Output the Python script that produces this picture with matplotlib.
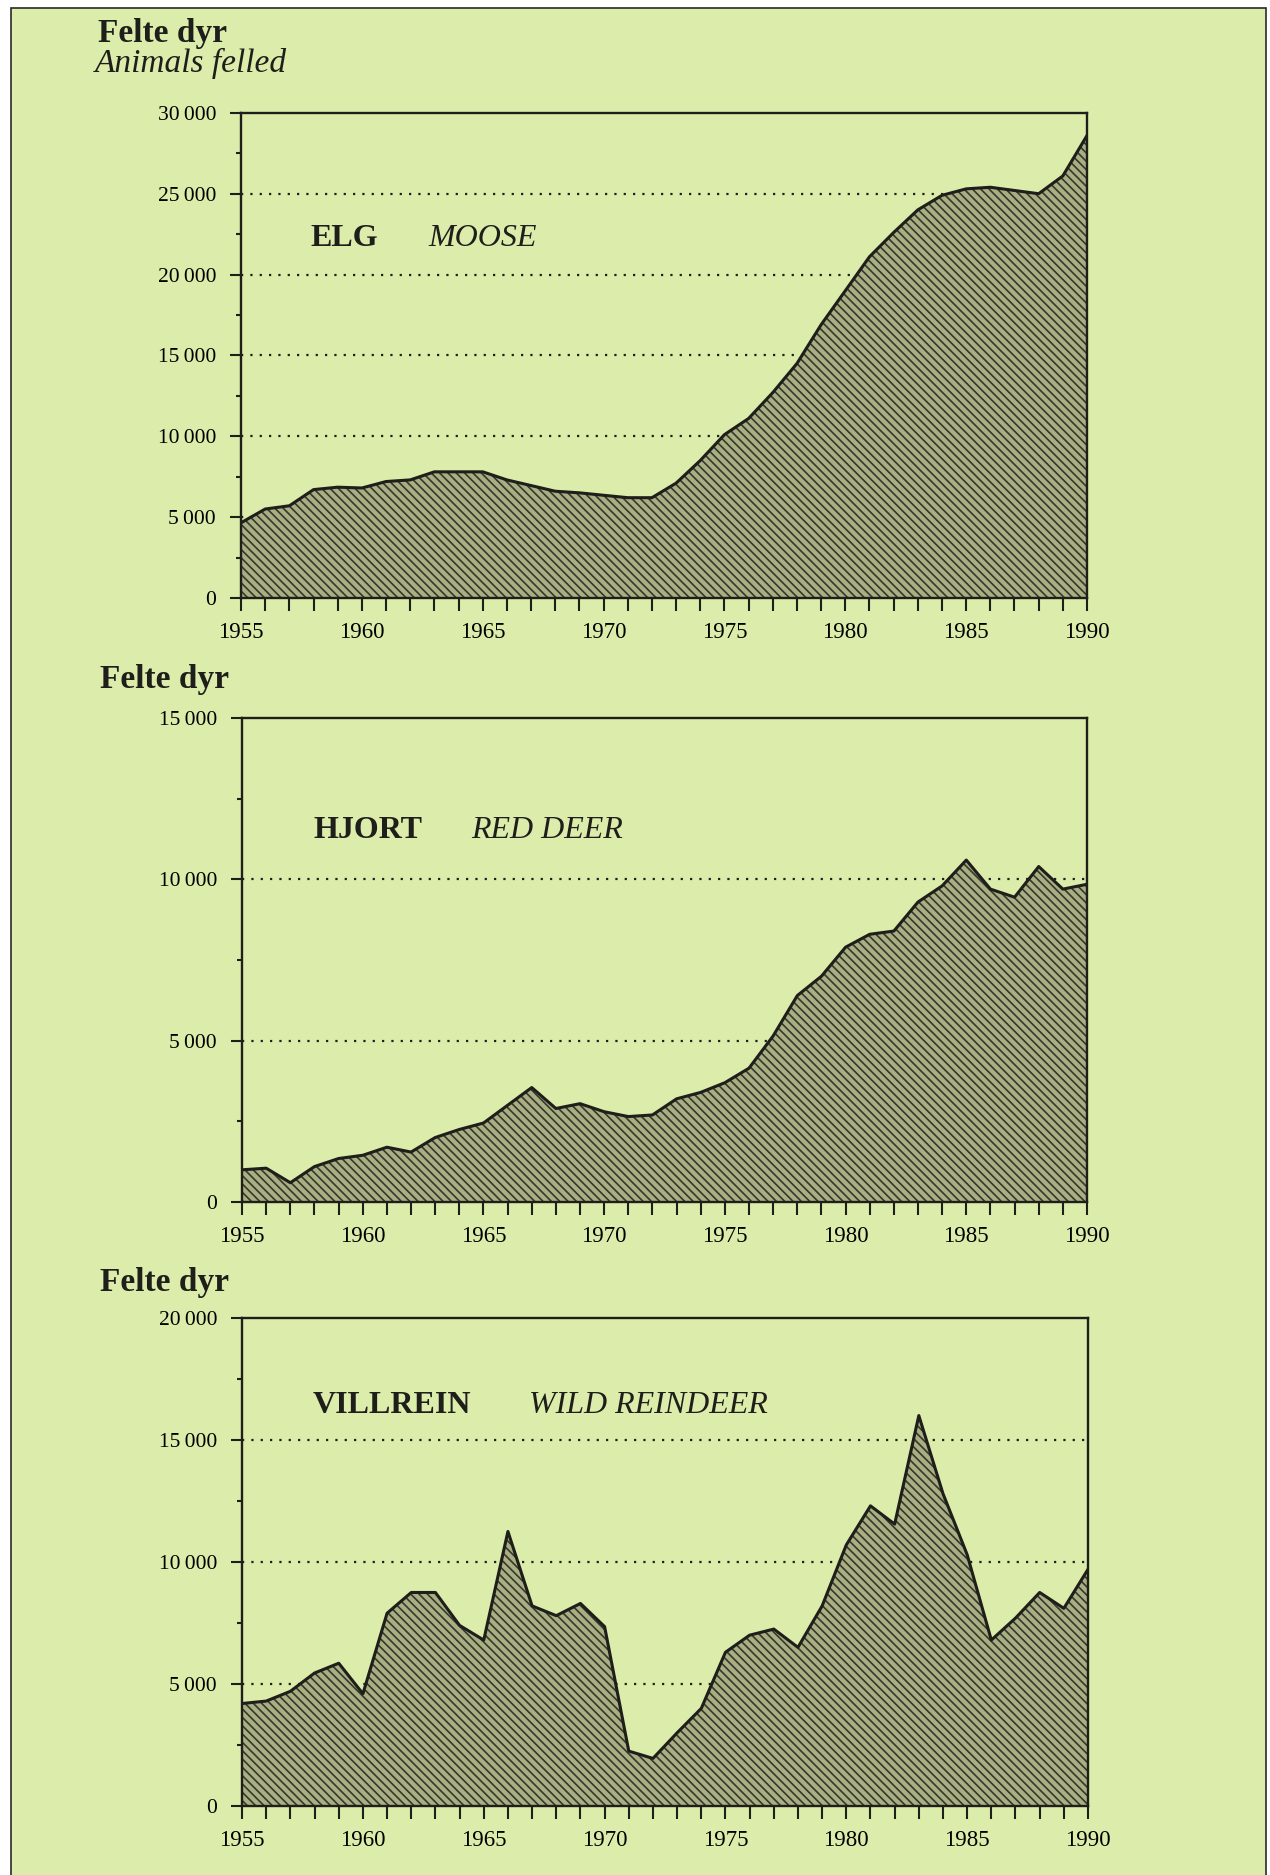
import matplotlib
matplotlib.use("Agg")
import matplotlib.pyplot as plt
from matplotlib.patches import Rectangle
from matplotlib.ticker import MultipleLocator, FuncFormatter

plt.rcParams['font.family'] = ['Liberation Serif', 'DejaVu Serif']
plt.rcParams['hatch.linewidth'] = 1.2

# Felte dyr per år, 1955-1990
years = list(range(1955, 1991))
elg = [4650, 5500, 5700, 6700, 6850, 6800, 7200, 7300, 7800, 7800, 7800,
       7300, 6950, 6600, 6500, 6350, 6200, 6200, 7100, 8500, 10100, 11100,
       12700, 14500, 16900, 19000, 21100, 22600, 24000, 24900, 25300, 25400,
       25200, 25000, 26100, 28600]
hjort = [1000, 1050, 600, 1100, 1350, 1450, 1700, 1550, 2000, 2250, 2450,
         3000, 3550, 2900, 3050, 2800, 2650, 2700, 3200, 3400, 3700, 4150,
         5150, 6400, 7000, 7900, 8300, 8400, 9300, 9800, 10600, 9700,
         9450, 10400, 9700, 9850]
villrein = [4200, 4300, 4700, 5450, 5850, 4600, 7900, 8750, 8750, 7400, 6800,
            11250, 8200, 7800, 8300, 7350, 2250, 1950, 3000, 4000, 6300, 7000,
            7250, 6500, 8200, 10700, 12300, 11550, 16000, 12800, 10300, 6800,
            7700, 8750, 8100, 9700]

ymax = [30000, 15000, 20000]
names_no = ['ELG', 'HJORT', 'VILLREIN']
names_en = ['MOOSE', 'RED DEER', 'WILD REINDEER']

bg = '#dcecab'
fill_col = '#a9af82'
hatch_col = '#35382a'
ink = '#1e1e1a'

fig = plt.figure(figsize=(12.7, 18.75), dpi=100)
fig.patch.set_facecolor('white')
fig.add_artist(Rectangle((0.009, -0.01), 0.988, 1.0057, transform=fig.transFigure,
                         facecolor=bg, edgecolor='#2a2a2a', lw=1.2, zorder=0))

# akse-posisjoner [venstre, bunn, bredde, høyde]
boxes = [[0.1898, 0.6811, 0.6661, 0.2587],
         [0.1906, 0.3589, 0.6653, 0.2581],
         [0.1906, 0.0368, 0.6661, 0.2603]]
label_pos = [(0.082, 0.221, 0.726), (0.084, 0.271, 0.752), (0.084, 0.339, 0.805)]
series = [elg, hjort, villrein]


def fmt(v, pos):
    return f"{int(v):,}".replace(',', '\u2009')


for i, ax_box in enumerate(boxes):
    ax = fig.add_axes(ax_box)
    ax.set_facecolor('none')
    vals = series[i]
    ax.set_xlim(1955, 1990)
    ax.set_ylim(0, ymax[i])

    # stiplede hjelpelinjer bak flaten
    for g in range(5000, ymax[i], 5000):
        ax.axhline(g, color=ink, lw=1.6, dashes=(1, 3.2), zorder=1)

    ax.fill_between(years, vals, 0, facecolor=fill_col, edgecolor='none', zorder=2)
    ax.fill_between(years, vals, 0, facecolor='none', edgecolor=hatch_col,
                    hatch='\\\\\\\\', lw=0, zorder=3)
    ax.plot(years, vals, color=ink, lw=2.2, zorder=4)

    for s in ax.spines.values():
        s.set_linewidth(1.7)
        s.set_color(ink)
        s.set_zorder(5)

    ax.xaxis.set_major_locator(MultipleLocator(5))
    ax.xaxis.set_minor_locator(MultipleLocator(1))
    ax.yaxis.set_major_locator(MultipleLocator(5000))
    ax.yaxis.set_minor_locator(MultipleLocator(2500))
    ax.yaxis.set_major_formatter(FuncFormatter(fmt))
    ax.tick_params(axis='x', which='both', direction='out', length=9, width=1.5,
                   color=ink, labelsize=16.5, pad=8, top=False)
    ax.tick_params(axis='y', which='major', direction='out', length=8, width=1.5,
                   color=ink, labelsize=15.5, pad=10, right=False)
    ax.tick_params(axis='y', which='minor', direction='out', length=3.5, width=1.5,
                   color=ink, right=False)

    lx1, lx2, ly = label_pos[i]
    ax.text(lx1, ly, names_no[i], transform=ax.transAxes, fontsize=23,
            fontweight='bold', va='baseline', color=ink)
    ax.text(lx2, ly, names_en[i], transform=ax.transAxes, fontsize=23,
            style='italic', va='baseline', color=ink)

# overskrifter
fig.text(98 / 1270, 1 - 42 / 1875, 'Felte dyr', fontsize=24, fontweight='bold',
         va='baseline', color=ink)
fig.text(95 / 1270, 1 - 72 / 1875, 'Animals felled', fontsize=24, style='italic',
         va='baseline', color=ink)
fig.text(100 / 1270, 1 - 688 / 1875, 'Felte dyr', fontsize=24, fontweight='bold',
         va='baseline', color=ink)
fig.text(100 / 1270, 1 - 1291 / 1875, 'Felte dyr', fontsize=24, fontweight='bold',
         va='baseline', color=ink)

fig.savefig('out.png', dpi=100)
